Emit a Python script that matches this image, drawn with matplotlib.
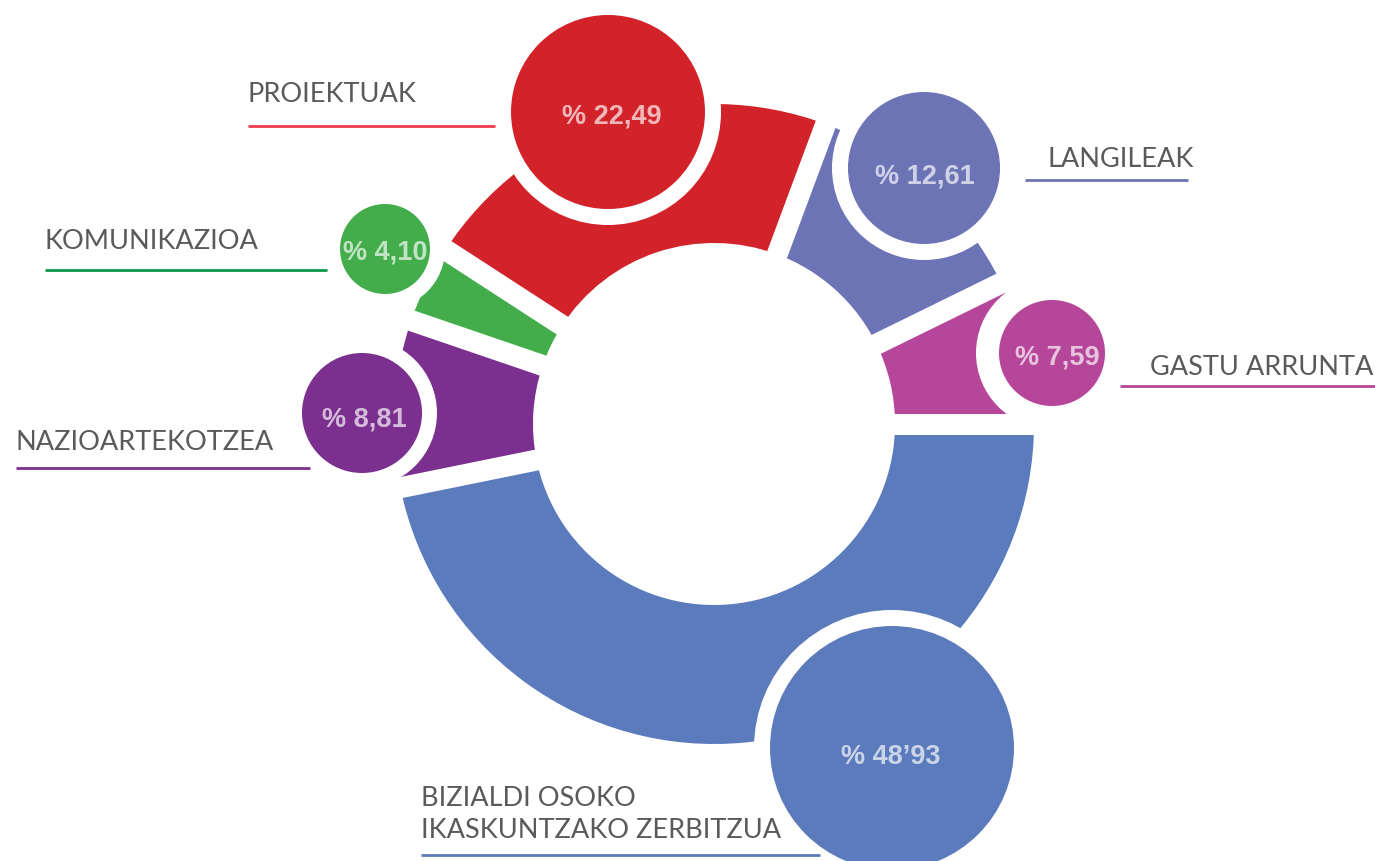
import matplotlib
matplotlib.use("Agg")
import matplotlib.pyplot as plt
import numpy as np
from matplotlib.patches import Circle, Polygon

# ---------------- data ----------------
categories = ["GASTU ARRUNTA", "LANGILEAK", "PROIEKTUAK", "KOMUNIKAZIOA",
              "NAZIOARTEKOTZEA", "BIZIALDI OSOKO\nIKASKUNTZAKO ZERBITZUA"]
values = [7.59, 12.61, 22.49, 4.10, 8.81, 48.93]
value_labels = ["% 7,59", "% 12,61", "% 22,49", "% 4,10", "% 8,81", "% 48\u201993"]

# ---------------- style / layout ----------------
colors = ["#B5469A", "#6C74B6", "#D2232A", "#42AD4A", "#7B2F8F", "#5B7BBD"]
line_colors = ["#B5469A", "#6C74B6", "#EE3A4C", "#0A9748", "#7B2F8F", "#5B7BBD"]
label_color = "#5A5A5C"

W, H = 1375, 862
CX, CY, R_OUT, R_IN = 714, 425, 320, 181
GAP = 21

bubble_xy = [(1052, 354), (924, 169), (608, 113), (385, 250), (362, 414), (892, 749)]
bubble_r = [53, 76, 97, 45, 60, 122]
bubble_ring = [23, 16, 16, 15, 15, 16]
value_xy = [(1057, 365), (925, 183), (612, 123), (385, 260), (364, 427), (891, 764)]
label_xy = [(1150, 375), (1048, 167), (248, 102), (45, 249), (16, 450), (421, 806)]
line_step = 32
underline = [(1120, 1375, 387), (1025, 1188, 181), (248, 495, 127),
             (45, 327, 271), (16, 310, 469), (421, 820, 856)]

fig = plt.figure(figsize=(W / 100, H / 100), dpi=100)
ax = fig.add_axes([0, 0, 1, 1])

wedges, _ = ax.pie(values, colors=colors, center=(CX, CY), radius=R_OUT,
                   startangle=0, counterclock=False,
                   wedgeprops=dict(width=R_OUT - R_IN, linewidth=0))
ax.set_xlim(0, W)
ax.set_ylim(H, 0)
ax.set_aspect("equal")
ax.axis("off")

# white radial gaps between slices
angles = set()
for w in wedges:
    angles.add(round(w.theta1 % 360, 6))
    angles.add(round(w.theta2 % 360, 6))
c = np.array([CX, CY], dtype=float)
for a in angles:
    t = np.deg2rad(a)
    d = np.array([np.cos(t), np.sin(t)])
    n = np.array([-np.sin(t), np.cos(t)])
    pts = [c + n * GAP / 2, c + n * GAP / 2 + d * (R_OUT + 10),
           c - n * GAP / 2 + d * (R_OUT + 10), c - n * GAP / 2]
    ax.add_patch(Polygon(pts, closed=True, facecolor="white", edgecolor="none", zorder=2))

# bubbles
for i in range(len(values)):
    x, y = bubble_xy[i]
    ax.add_patch(Circle((x, y), bubble_r[i] + bubble_ring[i], facecolor="white",
                        edgecolor="none", zorder=3))
for i in range(len(values)):
    x, y = bubble_xy[i]
    ax.add_patch(Circle((x, y), bubble_r[i], facecolor=colors[i],
                        edgecolor="none", zorder=5))
    tx, ty = value_xy[i]
    ax.text(tx, ty, value_labels[i], ha="center", va="baseline",
            fontsize=19.5, fontweight="bold", family=["Liberation Sans", "DejaVu Sans"],
            color="white", alpha=0.68, zorder=6)

# category labels + underlines
for i, cat in enumerate(categories):
    lx, ly = label_xy[i]
    for j, line in enumerate(cat.split("\n")):
        ax.text(lx, ly + j * line_step, line, ha="left", va="baseline",
                fontsize=19.5, fontweight="normal", family=["Lato", "DejaVu Sans"],
                color=label_color, zorder=6)
    x0, x1, yy = underline[i]
    ax.plot([x0, x1], [yy, yy], color=line_colors[i], lw=2.0,
            solid_capstyle="butt", zorder=4)

fig.savefig("out.png", dpi=100, facecolor="white")
